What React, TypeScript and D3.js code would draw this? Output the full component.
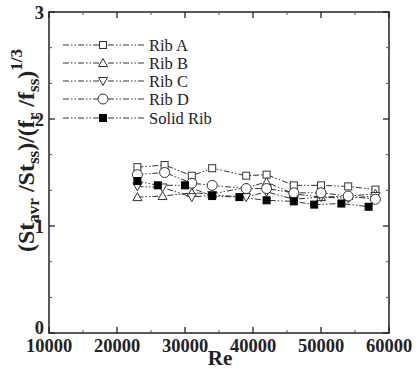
import React from "react";
import * as d3 from "d3";

const reA = [23000, 27000, 31000, 34000, 39000, 42000, 46000, 50000, 54000, 58000];
const ribA = [1.55, 1.57, 1.47, 1.54, 1.47, 1.48, 1.38, 1.38, 1.37, 1.34];
const reB = [23000, 26700, 31000, 34000, 39000, 42000, 46000, 50000, 54000, 58000];
const ribB = [1.27, 1.28, 1.31, 1.30, 1.36, 1.41, 1.30, 1.27, 1.28, 1.30];
const reC = [23000, 26700, 31000, 34000, 39000, 42000, 46000, 50000, 54000, 58000];
const ribC = [1.37, 1.36, 1.27, 1.29, 1.27, 1.32, 1.25, 1.27, 1.26, 1.28];
const reD = [23000, 27000, 31000, 34000, 39000, 42000, 46000, 50000, 54000, 58000];
const ribD = [1.48, 1.50, 1.40, 1.38, 1.35, 1.35, 1.31, 1.31, 1.28, 1.25];
const reS = [23000, 26000, 30000, 34000, 38000, 42000, 46000, 49000, 53000, 57000];
const solid = [1.42, 1.38, 1.38, 1.28, 1.27, 1.24, 1.23, 1.20, 1.21, 1.18];

const seriesNames = ["Rib A", "Rib B", "Rib C", "Rib D", "Solid Rib"];
const xTicks = [10000, 20000, 30000, 40000, 50000, 60000];
const yTicks = [0, 1, 2, 3];

const X0 = 49, X1 = 389, Y0 = 333, Y1 = 12;
const x = d3.scaleLinear().domain([10000, 60000]).range([X0, X1]);
const y = d3.scaleLinear().domain([0, 3]).range([Y0, Y1]);
const dash = "6,2,1.5,2,1.5,2";
const stroke = "#333";
const font = '"Liberation Serif", "Times New Roman", serif';

function Marker({ kind, cx, cy }: { kind: number; cx: number; cy: number }) {
  const s = 3.5;
  if (kind === 0)
    return <rect x={cx - s} y={cy - s} width={2 * s} height={2 * s} fill="white" stroke={stroke} strokeWidth={1} />;
  if (kind === 1)
    return <path d={`M${cx},${cy - 4.5}L${cx + 4.5},${cy + 3.5}L${cx - 4.5},${cy + 3.5}Z`} fill="white" stroke={stroke} strokeWidth={1} />;
  if (kind === 2)
    return <path d={`M${cx},${cy + 4.5}L${cx + 4.5},${cy - 3.5}L${cx - 4.5},${cy - 3.5}Z`} fill="white" stroke={stroke} strokeWidth={1} />;
  if (kind === 3)
    return <circle cx={cx} cy={cy} r={5} fill="white" stroke={stroke} strokeWidth={1} />;
  return <rect x={cx - s} y={cy - s} width={2 * s} height={2 * s} fill="black" stroke="black" strokeWidth={1} />;
}

export default function App() {
  const data = [
    { re: reA, v: ribA },
    { re: reB, v: ribB },
    { re: reC, v: ribC },
    { re: reD, v: ribD },
    { re: reS, v: solid },
  ];
  const line = d3
    .line<[number, number]>()
    .x((d) => x(d[0]))
    .y((d) => y(d[1]));
  const xMinor = d3.range(15000, 60000, 10000);
  const yMinor = d3.range(0, 3.001, 1 / 3).filter((v) => Math.abs(v - Math.round(v)) > 0.01);
  const legendY = [45, 63, 81, 99, 118];
  const tf = { fontFamily: font };
  return (
    <svg width={419} height={369} style={{ position: "absolute", left: 0, top: 0, background: "white", fontFamily: font }}>
      {data.map((s, i) => (
        <path
          key={"l" + i}
          d={line(s.re.map((r, j) => [r, s.v[j]] as [number, number])) || ""}
          fill="none"
          stroke={stroke}
          strokeWidth={1}
          strokeDasharray={dash}
        />
      ))}
      {data.map((s, i) =>
        s.re.map((r, j) => <Marker key={`m${i}-${j}`} kind={i} cx={x(r)} cy={y(s.v[j])} />)
      )}
      {seriesNames.map((n, i) => (
        <g key={"lg" + i}>
          <line x1={63} x2={145} y1={legendY[i]} y2={legendY[i]} stroke={stroke} strokeWidth={1} strokeDasharray={dash} />
          <Marker kind={i} cx={103} cy={legendY[i]} />
          <text x={149} y={legendY[i] + 5.5} fontSize={16.5} fill="#222" style={tf}>
            {n}
          </text>
        </g>
      ))}
      <rect x={X0} y={Y1} width={X1 - X0} height={Y0 - Y1} fill="none" stroke="#222" strokeWidth={1.5} />
      {xTicks.map((t) => (
        <g key={"xt" + t}>
          <line x1={x(t)} x2={x(t)} y1={Y0} y2={Y0 - 6} stroke="#222" strokeWidth={1.3} />
          <line x1={x(t)} x2={x(t)} y1={Y1} y2={Y1 + 6} stroke="#222" strokeWidth={1.3} />
          <text x={x(t)} y={352} fontSize={18.5} fontWeight="bold" textAnchor="middle" fill="#222" style={tf}>
            {t}
          </text>
        </g>
      ))}
      {xMinor.map((t) => (
        <g key={"xm" + t}>
          <line x1={x(t)} x2={x(t)} y1={Y0} y2={Y0 - 3} stroke="#555" strokeWidth={1} />
          <line x1={x(t)} x2={x(t)} y1={Y1} y2={Y1 + 3} stroke="#555" strokeWidth={1} />
        </g>
      ))}
      {yTicks.map((t) => (
        <g key={"yt" + t}>
          <line x1={X0} x2={X0 + 6} y1={y(t)} y2={y(t)} stroke="#222" strokeWidth={1.3} />
          <line x1={X1} x2={X1 - 6} y1={y(t)} y2={y(t)} stroke="#222" strokeWidth={1.3} />
          <text x={44} y={t === 0 ? 334 : y(t) + 6.5} fontSize={18.5} fontWeight="bold" textAnchor="end" fill="#222" style={tf}>
            {t}
          </text>
        </g>
      ))}
      {yMinor.map((t, i) => (
        <g key={"ym" + i}>
          <line x1={X0} x2={X0 + 3} y1={y(t)} y2={y(t)} stroke="#555" strokeWidth={1} />
          <line x1={X1} x2={X1 - 3} y1={y(t)} y2={y(t)} stroke="#555" strokeWidth={1} />
        </g>
      ))}
      <text x={220} y={365} fontSize={21} fontWeight="bold" textAnchor="middle" fill="#222" style={tf}>
        Re
      </text>
      <text transform="translate(34,252) rotate(-90)" fontSize={24} fontWeight="bold" fill="#222" style={tf}>
        <tspan>(St</tspan>
        <tspan fontSize={17} dy={5}>avr</tspan>
        <tspan dy={-5}> /St</tspan>
        <tspan fontSize={17} dy={5}>ss</tspan>
        <tspan dy={-5}>)/(f</tspan>
        <tspan fontSize={17} dy={5}>r</tspan>
        <tspan dy={-5}> /f</tspan>
        <tspan fontSize={17} dy={5}>ss</tspan>
        <tspan dy={-5}>)</tspan>
        <tspan fontSize={17} dy={-12}>1/3</tspan>
      </text>
    </svg>
  );
}
